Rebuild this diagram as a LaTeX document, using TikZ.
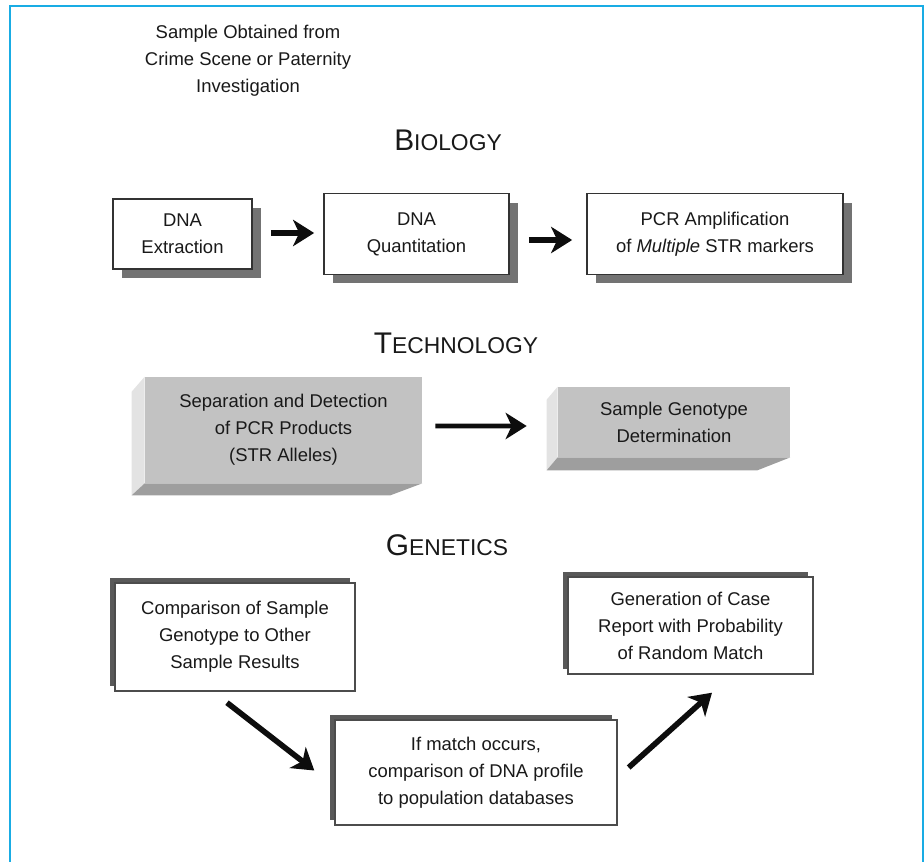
\documentclass[tikz,border=0pt]{standalone}
\usepackage{fontspec}
\setmainfont{Liberation Sans}
\usepackage{tikz}
\usetikzlibrary{arrows.meta, shadows, calc, positioning}
\usepackage{xcolor}

\definecolor{framecyan}{RGB}{25,172,228}
\newcommand{\headcap}[2]{{\fontsize{17}{20}\selectfont #1}{\fontsize{13}{16}\selectfont #2}}

\tikzset{
  biobox/.style={draw=black!80, line width=1pt, fill=white, align=center, inner sep=0pt,
    drop shadow={shadow xshift=0.18cm, shadow yshift=-0.18cm, fill=black!55, opacity=1}},
  genbox/.style={draw=black!70, line width=0.8pt, fill=white, align=center, inner sep=0pt,
    drop shadow={shadow xshift=-0.1cm, shadow yshift=0.1cm, fill=black!65, opacity=1}},
  techbox/.style={fill=black!24, align=center, inner sep=0pt},
  bigarrow/.style={-{Stealth[length=12pt, width=15pt, inset=3.5pt]}, line width=3.2pt, black!95}
}

\begin{document}
\begin{tikzpicture}[x=0.02cm, y=-0.02cm, font=\fontsize{10.5}{15.4}\selectfont, text=black!90]
		\useasboundingbox (0,0) rectangle (924,862);
		\draw[framecyan, line width=1.1pt] (10,862) -- (10,6) -- (923,6) -- (923,862);

		\draw (248,61) node[align=center] (src) {Sample Obtained from\\Crime Scene or Paternity\\Investigation}
		(448,140) node (biol) {\headcap{B}{IOLOGY}}
		(182.5,234) node[biobox, minimum width=2.78cm, minimum height=1.4cm] (extr) {DNA\\Extraction}
		(416.5,234) node[biobox, minimum width=3.7cm, minimum height=1.62cm] (quant) {DNA\\Quantitation}
		(715,234) node[biobox, minimum width=5.12cm, minimum height=1.62cm] (pcr) {PCR Amplification\\of \textit{Multiple} STR markers}
		(456,343) node (tech) {\headcap{T}{ECHNOLOGY}}
		(283.5,430) node[techbox, minimum width=5.54cm, minimum height=2.12cm] (sep) {Separation and Detection\\of PCR Products\\(STR Alleles)}
		(674,422) node[techbox, minimum width=4.64cm, minimum height=1.4cm] (geno) {Sample Genotype\\Determination}
		(447,545) node (gene) {\headcap{G}{ENETICS}}
		(235,637) node[genbox, minimum width=4.8cm, minimum height=2.16cm] (comp) {Comparison of Sample\\Genotype to Other\\Sample Results}
		(476,772.5) node[genbox, minimum width=5.64cm, minimum height=2.1cm] (popdb) {If match occurs,\\comparison of DNA profile\\to population databases}
		(690.5,625.5) node[genbox, minimum width=4.9cm, minimum height=1.94cm] (report) {Generation of Case\\Report with Probability\\of Random Match};

		% 3d faces of the grey blocks
		\fill[black!11] (sep.north west) -- (sep.south west) -- ++(-13,12) -- ($(sep.north west)+(-13,15)$) -- cycle;
		\fill[black!38] (sep.south west) -- (sep.south east) -- ++(-32,12) -- ($(sep.south west)+(-13,12)$) -- cycle;
		\fill[black!11] (geno.north west) -- (geno.south west) -- ++(-11,13) -- ($(geno.north west)+(-11,13)$) -- cycle;
		\fill[black!38] (geno.south west) -- (geno.south east) -- ++(-33,13) -- ($(geno.south west)+(-11,13)$) -- cycle;

		\draw[bigarrow] ([xshift=0.36cm, yshift=0.02cm]extr.east) -- ([xshift=-0.18cm, yshift=0.02cm]quant.west);
		\draw[bigarrow] ([xshift=0.38cm, yshift=-0.12cm]quant.east) -- ([xshift=-0.28cm, yshift=-0.12cm]pcr.west);
		\draw[bigarrow, line width=2.6pt] ([xshift=0.26cm, yshift=0.08cm]sep.east) -- ([xshift=-0.62cm, yshift=-0.08cm]geno.west);
		\draw[bigarrow] ($(comp.south)+(-8,11)$) -- ($(popdb.west)+(-20,-2)$);
		\draw[bigarrow] ($(popdb.east)+(11,-5)$) -- ($(report.south)+(21.5,18)$);
	\end{tikzpicture}
\end{document}
